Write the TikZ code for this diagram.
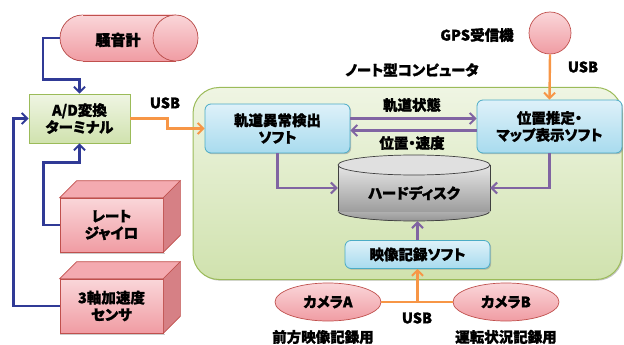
\documentclass[tikz,border=0pt]{standalone}
\usepackage{fontspec}
\setmainfont{Noto Sans CJK JP}[RawFeature=+palt, BoldFeatures={FakeBold=1.3}]
\usetikzlibrary{arrows.meta,shadows,calc,shapes.geometric}
\definecolor{navyline}{RGB}{48,58,150}
\definecolor{purpline}{RGB}{128,100,162}
\definecolor{orgline}{RGB}{247,150,70}
\definecolor{pinkT}{RGB}{250,214,217}
\definecolor{pinkB}{RGB}{240,156,163}
\definecolor{pinkD}{RGB}{192,80,77}
\definecolor{pinkTop}{RGB}{244,170,176}
\definecolor{pinkSide}{RGB}{214,128,133}
\definecolor{grnT}{RGB}{239,245,227}
\definecolor{grnB}{RGB}{208,226,174}
\definecolor{grnD}{RGB}{155,187,89}
\definecolor{bluT}{RGB}{222,241,249}
\definecolor{bluB}{RGB}{168,219,238}
\definecolor{bluD}{RGB}{75,172,198}
\tikzset{
  lbl/.style={font=\bfseries\fontsize{14.5}{17}\selectfont, text=black, inner sep=0pt},
  lblbig/.style={font=\bfseries\fontsize{15}{17}\selectfont, text=black, inner sep=0pt},
  sh/.style={drop shadow={shadow xshift=1.2pt, shadow yshift=-1.2pt, fill=black!45, opacity=0.5}},
  greenbox/.style={draw=grnD, line width=0.8pt, top color=grnT, bottom color=grnB, sh, lbl, align=center},
  bluebox/.style={draw=bluD, line width=0.8pt, rounded corners=6pt, top color=bluT, bottom color=bluB, sh, lbl, align=center},
  pinkbox/.style={draw=pinkD, line width=0.7pt, top color=pinkT, bottom color=pinkB, lbl, align=center},
  navy/.style={draw=navyline, line width=2.6pt},
  purp/.style={draw=purpline, line width=2.4pt},
  org/.style={draw=orgline, line width=2.4pt},
  tip/.style={-{Straight Barb[length=5.5pt,width=11pt,line width=2pt]}},
}
\begin{document}
\begin{tikzpicture}[x=1pt,y=-1pt]
\useasboundingbox (0,0) rectangle (624,345);

% notebook region
\node[draw=grnD, line width=1pt, rounded corners=26pt, top color=grnT, bottom color=grnB, sh,
      minimum width=429pt, minimum height=192pt, inner sep=0pt] (pc) at (407.5,183.5) {};
\node[lbl] (pclbl) at (412,70) {ノート型コンピュータ};

% noise meter (horizontal cylinder)
\fill[top color=pinkT, bottom color=pinkB, draw=pinkD, line width=0.7pt] (82.5,38) ellipse[x radius=22.5, y radius=23];
\fill[top color=pinkT, bottom color=pinkB] (82.5,15) rectangle (175.5,61);
\draw[pinkD, line width=0.7pt] (82.5,15) -- (175.5,15) (82.5,61) -- (175.5,61);
\fill[top color=pinkT, bottom color=pinkB, draw=pinkD, line width=0.7pt] (175.5,38) ellipse[x radius=22.5, y radius=23];
\node[lblbig, minimum width=138pt, minimum height=46pt] (noise) at (129,38) {};
\node[lblbig] (noisetxt) at (118,40) {騒音計};

% A/D box
\node[greenbox, minimum width=101pt, minimum height=49pt] (ad) at (79.5,118.5) {A/D変換\\[0pt]ターミナル};

% rate gyro (3D box)
\node[pinkbox, minimum width=103pt, minimum height=54pt] (gyro) at (111.5,225) {レート\\[0pt]ジャイロ};
\filldraw[fill=pinkTop, draw=pinkD, line width=0.7pt] (gyro.north west) -- ++(17,-17) -- ($(gyro.north east)+(17,-17)$) -- (gyro.north east) -- cycle;
\filldraw[fill=pinkSide, draw=pinkD, line width=0.7pt] (gyro.north east) -- ++(17,-17) -- ($(gyro.south east)+(17,-17)$) -- (gyro.south east) -- cycle;
\fill[black!40, opacity=0.5] ([yshift=-0.7pt]gyro.south west) rectangle ([xshift=1.5pt,yshift=-2pt]gyro.south east);

% 3-axis sensor (3D box)
\node[pinkbox, minimum width=103pt, minimum height=54pt] (acc) at (111.5,306) {3軸加速度\\[0pt]センサ};
\filldraw[fill=pinkTop, draw=pinkD, line width=0.7pt] (acc.north west) -- ++(17,-17) -- ($(acc.north east)+(17,-17)$) -- (acc.north east) -- cycle;
\filldraw[fill=pinkSide, draw=pinkD, line width=0.7pt] (acc.north east) -- ++(17,-17) -- ($(acc.south east)+(17,-17)$) -- (acc.south east) -- cycle;
\fill[black!40, opacity=0.5] ([yshift=-0.7pt]acc.south west) rectangle ([xshift=1.5pt,yshift=-2pt]acc.south east);

% software boxes
\node[bluebox, minimum width=145pt, minimum height=49pt] (anom) at (277.5,128.5) {軌道異常検出\\[0pt]ソフト};
\node[bluebox, minimum width=145pt, minimum height=53pt] (pos) at (549.5,126.5) {位置推定・\\[0pt]マップ表示ソフト};
\node[bluebox, minimum width=145pt, minimum height=28pt] (vid) at (417.5,254.5) {映像記録ソフト};

% hard disk (vertical cylinder)
\fill[top color=black!18, bottom color=black!42, draw=black!75, line width=0.7pt] (414,211) ellipse[x radius=76, y radius=10];
\fill[top color=black!10, bottom color=black!38] (338,165) rectangle (490,211);
\draw[black!75, line width=0.7pt] (338,165) -- (338,211) (490,165) -- (490,211);
\fill[fill=black!12, draw=black!75, line width=0.7pt] (414,165) ellipse[x radius=76, y radius=10];
\node[lbl, minimum width=152pt, minimum height=66pt] (hdd) at (414,188) {};
\node[lbl] (hddtxt) at (414,193) {ハードディスク};

% GPS
\node[circle, draw=pinkD, line width=0.7pt, top color=pinkT, bottom color=pinkB, minimum size=42pt, inner sep=0pt] (gps) at (550,33) {};
\node[lbl] (gpslbl) at (477,35) {GPS受信機};
\node[lbl] (usb2) at (583,67) {USB};

% cameras
\node[ellipse, draw=pinkD, line width=0.7pt, top color=pinkT, bottom color=pinkB, minimum width=106pt, minimum height=38pt, inner sep=0pt, lbl] (camA) at (328,302) {カメラA};
\node[ellipse, draw=pinkD, line width=0.7pt, top color=pinkT, bottom color=pinkB, minimum width=106pt, minimum height=38pt, inner sep=0pt, lbl] (camB) at (506,302) {カメラB};
\node[lbl] (camAlbl) at (323,337) {前方映像記録用};
\node[lbl] (camBlbl) at (506,337) {運転状況記録用};
\node[lbl] (usb3) at (417,318) {USB};

% blue connectors
\draw[navy, tip] (noise.west) -- ++(-17,0) |- ([yshift=14pt]ad.north) -- (ad.north);
\draw[navy, tip] (gyro.west) -- ++(-16,0) |- ([yshift=-19pt]ad.south) -- (ad.south);
\draw[navy, tip] (acc.west) -- ++(-46,0) |- (ad.west);

% USB A/D -> anomaly
\draw[org, tip] (ad.east) -- ++(37,0) |- (anom.west);
\node[lbl] (usb1) at (165,103) {USB};

% GPS -> position
\draw[org, tip] (gps.south) -- (pos.north);

% anomaly <-> position
\draw[purp, tip] ([yshift=10pt]anom.east) -- ([yshift=8pt]pos.west);
\draw[purp, tip] ([yshift=-4pt]pos.west) -- ([yshift=-2pt]anom.east);
\node[lbl] (st) at (412,105) {軌道状態};
\node[lbl] (pv) at (412,143) {位置・速度};

% to disk
\draw[purp, tip] (anom.south) |- (hdd.west);
\draw[purp, tip] (pos.south) |- (hdd.east);
\draw[purp, tip] (vid.north) -- (vid.north |- hdd.south);

% cameras -> video
\draw[org] (camA.east) -- (camB.west);
\draw[org, tip] (vid.south |- camA.east) -- (vid.south);
\end{tikzpicture}
\end{document}
